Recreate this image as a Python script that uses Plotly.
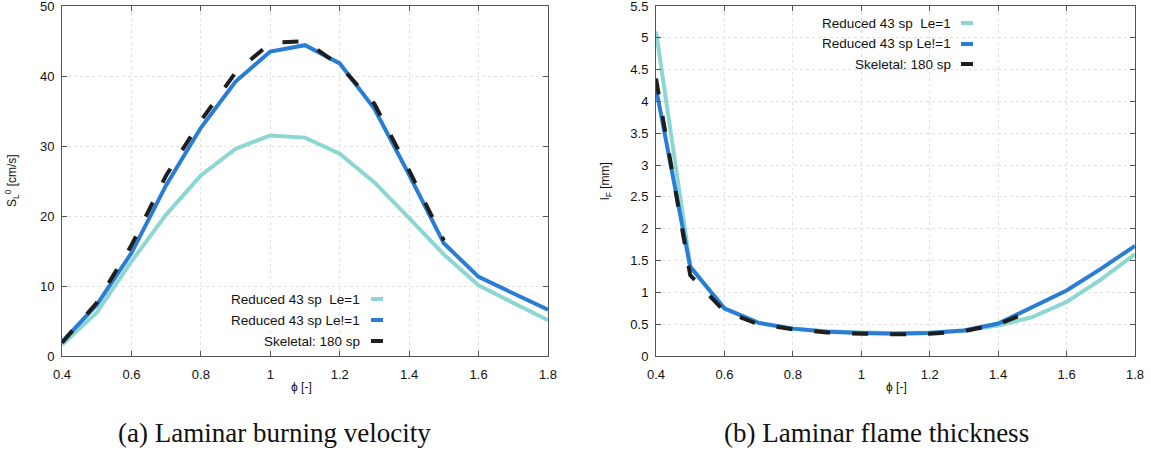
import plotly.graph_objects as go

phi = [0.4, 0.5, 0.6, 0.7, 0.8, 0.9, 1.0, 1.1, 1.2, 1.3, 1.4, 1.5, 1.6, 1.7, 1.8]
phi_skel = [0.4, 0.5, 0.6, 0.7, 0.8, 0.9, 1.0, 1.1, 1.2, 1.3, 1.4, 1.5]

# (a) laminar burning velocity [cm/s]
sl_le1 = [1.6, 6.2, 13.5, 20.2, 25.8, 29.6, 31.5, 31.2, 28.9, 24.8, 19.7, 14.5, 10.1, 7.6, 5.1]
sl_le = [2.0, 7.3, 14.7, 24.4, 32.6, 39.2, 43.5, 44.4, 41.8, 35.3, 25.9, 16.1, 11.3, 9.0, 6.6]
sl_skel = [1.9, 7.6, 15.8, 25.8, 33.6, 40.5, 44.7, 45.0, 41.5, 36.0, 26.5, 16.5]

# (b) laminar flame thickness [mm]
lf_le1 = [5.10, 1.42, 0.74, 0.52, 0.43, 0.39, 0.37, 0.36, 0.37, 0.40, 0.48, 0.61, 0.85, 1.20, 1.60]
lf_le = [4.21, 1.40, 0.75, 0.52, 0.43, 0.38, 0.36, 0.35, 0.36, 0.40, 0.51, 0.77, 1.03, 1.37, 1.73]
lf_skel = [4.36, 1.27, 0.70, 0.50, 0.42, 0.37, 0.35, 0.34, 0.35, 0.39, 0.50, 0.71]

x_ticks = [0.4, 0.6, 0.8, 1.0, 1.2, 1.4, 1.6, 1.8]
x_ticktext = ["0.4", "0.6", "0.8", "1", "1.2", "1.4", "1.6", "1.8"]
sl_ticks = [0, 10, 20, 30, 40, 50]
lf_ticks = [0, 0.5, 1, 1.5, 2, 2.5, 3, 3.5, 4, 4.5, 5, 5.5]
lf_ticktext = ["0", "0.5", "1", "1.5", "2", "2.5", "3", "3.5", "4", "4.5", "5", "5.5"]

legend_names = ["Reduced 43 sp\u00a0\u00a0Le=1", "Reduced 43 sp Le!=1", "Skeletal: 180 sp"]

TEAL = "rgb(140,215,210)"
BLUE = "rgb(42,125,212)"
BLACK = "rgb(30,30,30)"
W, H = 1151, 450


def px(x):
    return x / W


def py(y):
    return 1 - y / H


fig = go.Figure()

for xa, ya, xs, s1, s2, s3 in [("x", "y", phi, sl_le1, sl_le, sl_skel),
                                ("x2", "y2", phi, lf_le1, lf_le, lf_skel)]:
    fig.add_trace(go.Scatter(x=xs, y=s1, mode="lines", xaxis=xa, yaxis=ya,
                             line=dict(color=TEAL, width=4), showlegend=False))
    fig.add_trace(go.Scatter(x=xs, y=s2, mode="lines", xaxis=xa, yaxis=ya,
                             line=dict(color=BLUE, width=4), showlegend=False))
    fig.add_trace(go.Scatter(x=phi_skel, y=s3, mode="lines", xaxis=xa, yaxis=ya,
                             line=dict(color=BLACK, width=4, dash="16px,22px"),
                             showlegend=False))

tickfont = dict(family="Liberation Sans, Arial, sans-serif", size=13, color="#111")
axis_common = dict(showline=True, linecolor="#555", linewidth=1, mirror="ticks",
                   ticks="inside", ticklen=5, tickcolor="#555", tickwidth=1,
                   showgrid=True, gridcolor="#e2e2e2", griddash="dot", gridwidth=1,
                   zeroline=False, tickfont=tickfont, ticklabeloverflow="allow",
                   automargin=False)

ytop, ybot = py(6), py(356)
fig.update_layout(
    width=W, height=H,
    margin=dict(l=0, r=0, t=0, b=0, autoexpand=False),
    paper_bgcolor="white", plot_bgcolor="white",
    xaxis=dict(domain=[px(62), px(548)], range=[0.4, 1.8], tickvals=x_ticks,
               ticktext=x_ticktext, anchor="y", ticklabelstandoff=6, **axis_common),
    yaxis=dict(domain=[ybot, ytop], range=[0, 50], tickvals=sl_ticks, anchor="x",
               ticklabelstandoff=4, **axis_common),
    xaxis2=dict(domain=[px(656), px(1135)], range=[0.4, 1.8], tickvals=x_ticks,
                ticktext=x_ticktext, anchor="y2", ticklabelstandoff=6, **axis_common),
    yaxis2=dict(domain=[ybot, ytop], range=[0, 5.5], tickvals=lf_ticks,
                ticktext=lf_ticktext, anchor="x2", ticklabelstandoff=4, **axis_common),
)

shapes = []
annotations = []
# legend boxes (hide grid behind legend)
for (x0, x1, y0, y1) in [(228, 396, 279, 354), (805, 982, 8, 80)]:
    shapes.append(dict(type="rect", xref="paper", yref="paper", x0=px(x0), x1=px(x1),
                       y0=py(y1), y1=py(y0), fillcolor="white", line=dict(width=0),
                       layer="between"))

legend_font = dict(family="Liberation Sans, Arial, sans-serif", size=13.5, color="#111")
colors = [TEAL, BLUE, BLACK]
for (tx, lx0, lx1, ys) in [(362, 371, 383, [299, 320, 341]), (953, 961, 973, [23, 44, 64])]:
    for name, c, yy in zip(legend_names, colors, ys):
        annotations.append(dict(text=name, xref="paper", yref="paper", x=px(tx), y=py(yy),
                                xanchor="right", yanchor="middle", showarrow=False,
                                font=legend_font))
        shapes.append(dict(type="line", xref="paper", yref="paper", x0=px(lx0), x1=px(lx1),
                           y0=py(yy), y1=py(yy), line=dict(color=c, width=4)))

label_font = dict(family="Liberation Sans, Arial, sans-serif", size=12, color="#111")
annotations += [
    dict(text="S<sub>L</sub><sup>0</sup> [cm/s]", xref="paper", yref="paper", x=px(12),
         y=py(181), textangle=-90, showarrow=False, font=label_font,
         xanchor="center", yanchor="middle"),
    dict(text="l<sub>F</sub> [mm]", xref="paper", yref="paper", x=px(606),
         y=py(181), textangle=-90, showarrow=False, font=label_font,
         xanchor="center", yanchor="middle"),
    dict(text="ϕ [-]", xref="paper", yref="paper", x=px(301), y=py(387),
         showarrow=False, font=label_font, xanchor="center", yanchor="middle"),
    dict(text="ϕ [-]", xref="paper", yref="paper", x=px(896), y=py(387),
         showarrow=False, font=label_font, xanchor="center", yanchor="middle"),
]
cap_font = dict(family="Liberation Serif, Times New Roman, serif", size=27, color="#111")
annotations += [
    dict(text="(a) Laminar burning velocity", xref="paper", yref="paper", x=px(274),
         y=py(433), showarrow=False, font=cap_font, xanchor="center", yanchor="middle"),
    dict(text="(b) Laminar flame thickness", xref="paper", yref="paper", x=px(876),
         y=py(433), showarrow=False, font=cap_font, xanchor="center", yanchor="middle"),
]

fig.update_layout(shapes=shapes, annotations=annotations)
fig.write_html("out.html")
